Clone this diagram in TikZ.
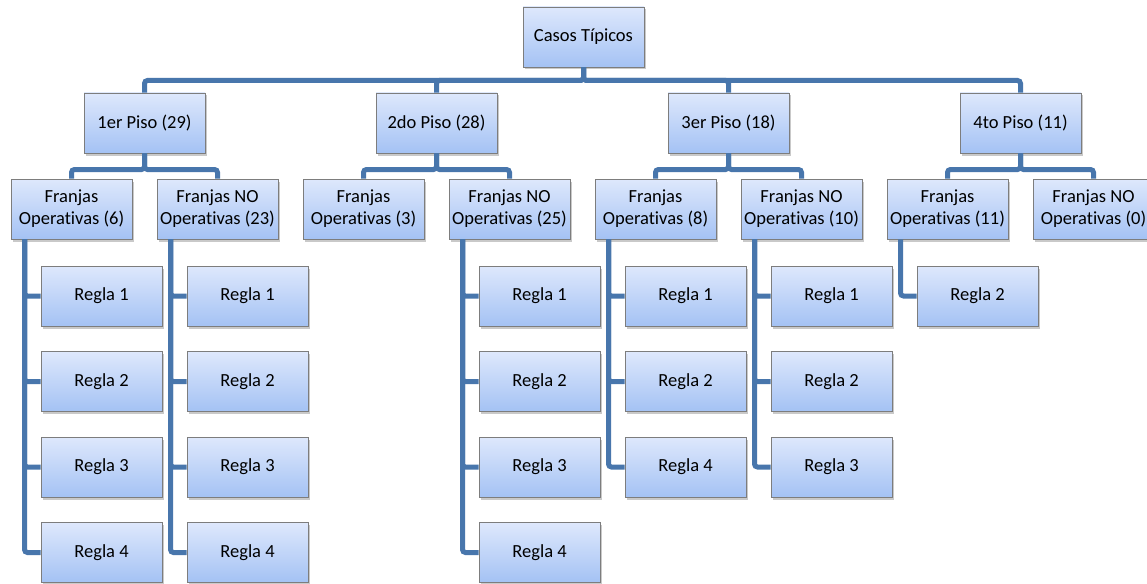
\documentclass[tikz,border=0pt]{standalone}
\usepackage{fontspec}
\setmainfont{Carlito}[Ligatures=NoCommon]
\usetikzlibrary{shadows,calc}
\definecolor{linec}{RGB}{72,118,172}
\definecolor{boxtop}{RGB}{222,232,252}
\definecolor{boxbot}{RGB}{164,194,244}
\definecolor{boxborder}{RGB}{125,125,125}
\tikzset{
  box/.style={draw=boxborder, line width=0.8pt, top color=boxtop, bottom color=boxbot,
    minimum width=121pt, minimum height=60pt, inner sep=0pt, align=center,
    font=\fontsize{18.5}{22}\selectfont,
    drop shadow={shadow xshift=2pt, shadow yshift=-2.5pt, opacity=0.35, fill=black!60}},
  conn/.style={draw=linec, line width=5pt, rounded corners=3pt}
}
\begin{document}
\begin{tikzpicture}[x=1pt,y=-1pt]
\clip (0,0) rectangle (1147,583);
\fill[white] (0,0) rectangle (1147,583);
% root and level 1
\node[box] (root) at (583.5,37) {Casos Típicos};
\node[box] (p1) at (144.5,123) {1er Piso (29)};
\node[box] (p2) at (436.5,123) {2do Piso (28)};
\node[box] (p3) at (728.5,123) {3er Piso (18)};
\node[box] (p4) at (1020.5,123) {4to Piso (11)};
% level 2
\node[box] (c0) at (71.5,209) {Franjas\\Operativas (6)};
\node[box] (c1) at (217.5,209) {Franjas NO\\Operativas (23)};
\node[box] (c2) at (363.5,209) {Franjas\\Operativas (3)};
\node[box] (c3) at (509.5,209) {Franjas NO\\Operativas (25)};
\node[box] (c4) at (655.5,209) {Franjas\\Operativas (8)};
\node[box] (c5) at (801.5,209) {Franjas NO\\Operativas (10)};
\node[box] (c6) at (947.5,209) {Franjas\\Operativas (11)};
\node[box] (c7) at (1093.5,209) {Franjas NO\\Operativas (0)};
% rules
\node[box] (r0a) at (101.5,296) {Regla 1};
\node[box] (r0b) at (101.5,381.5) {Regla 2};
\node[box] (r0c) at (101.5,467) {Regla 3};
\node[box] (r0d) at (101.5,552.5) {Regla 4};
\node[box] (r1a) at (247.5,296) {Regla 1};
\node[box] (r1b) at (247.5,381.5) {Regla 2};
\node[box] (r1c) at (247.5,467) {Regla 3};
\node[box] (r1d) at (247.5,552.5) {Regla 4};
\node[box] (r3a) at (539.5,296) {Regla 1};
\node[box] (r3b) at (539.5,381.5) {Regla 2};
\node[box] (r3c) at (539.5,467) {Regla 3};
\node[box] (r3d) at (539.5,552.5) {Regla 4};
\node[box] (r4a) at (685.5,296) {Regla 1};
\node[box] (r4b) at (685.5,381.5) {Regla 2};
\node[box] (r4c) at (685.5,467) {Regla 4};
\node[box] (r5a) at (831.5,296) {Regla 1};
\node[box] (r5b) at (831.5,381.5) {Regla 2};
\node[box] (r5c) at (831.5,467) {Regla 3};
\node[box] (r6a) at (977.5,296) {Regla 2};
% connectors root -> floors
\foreach \p in {p1,p2,p3,p4}
  \draw[conn] (root.south) |- (\p.north |- 0,80.5) -- (\p.north);
% floors -> franjas
\draw[conn] (p1.south) |- (c0.north |- 0,169.5) -- (c0.north);
\draw[conn] (p1.south) |- (c1.north |- 0,169.5) -- (c1.north);
\draw[conn] (p2.south) |- (c2.north |- 0,169.5) -- (c2.north);
\draw[conn] (p2.south) |- (c3.north |- 0,169.5) -- (c3.north);
\draw[conn] (p3.south) |- (c4.north |- 0,169.5) -- (c4.north);
\draw[conn] (p3.south) |- (c5.north |- 0,169.5) -- (c5.north);
\draw[conn] (p4.south) |- (c6.north |- 0,169.5) -- (c6.north);
\draw[conn] (p4.south) |- (c7.north |- 0,169.5) -- (c7.north);
% franjas -> rules
\foreach \c/\x/\rs in {c0/24.5/{r0a,r0b,r0c,r0d}, c1/170.5/{r1a,r1b,r1c,r1d},
    c3/462.5/{r3a,r3b,r3c,r3d}, c4/608.5/{r4a,r4b,r4c}, c5/754.5/{r5a,r5b,r5c}, c6/900.5/{r6a}}
  \foreach \r in \rs
    \draw[conn] (\c.south -| \x,0) |- (\r.west);
\end{tikzpicture}
\end{document}
